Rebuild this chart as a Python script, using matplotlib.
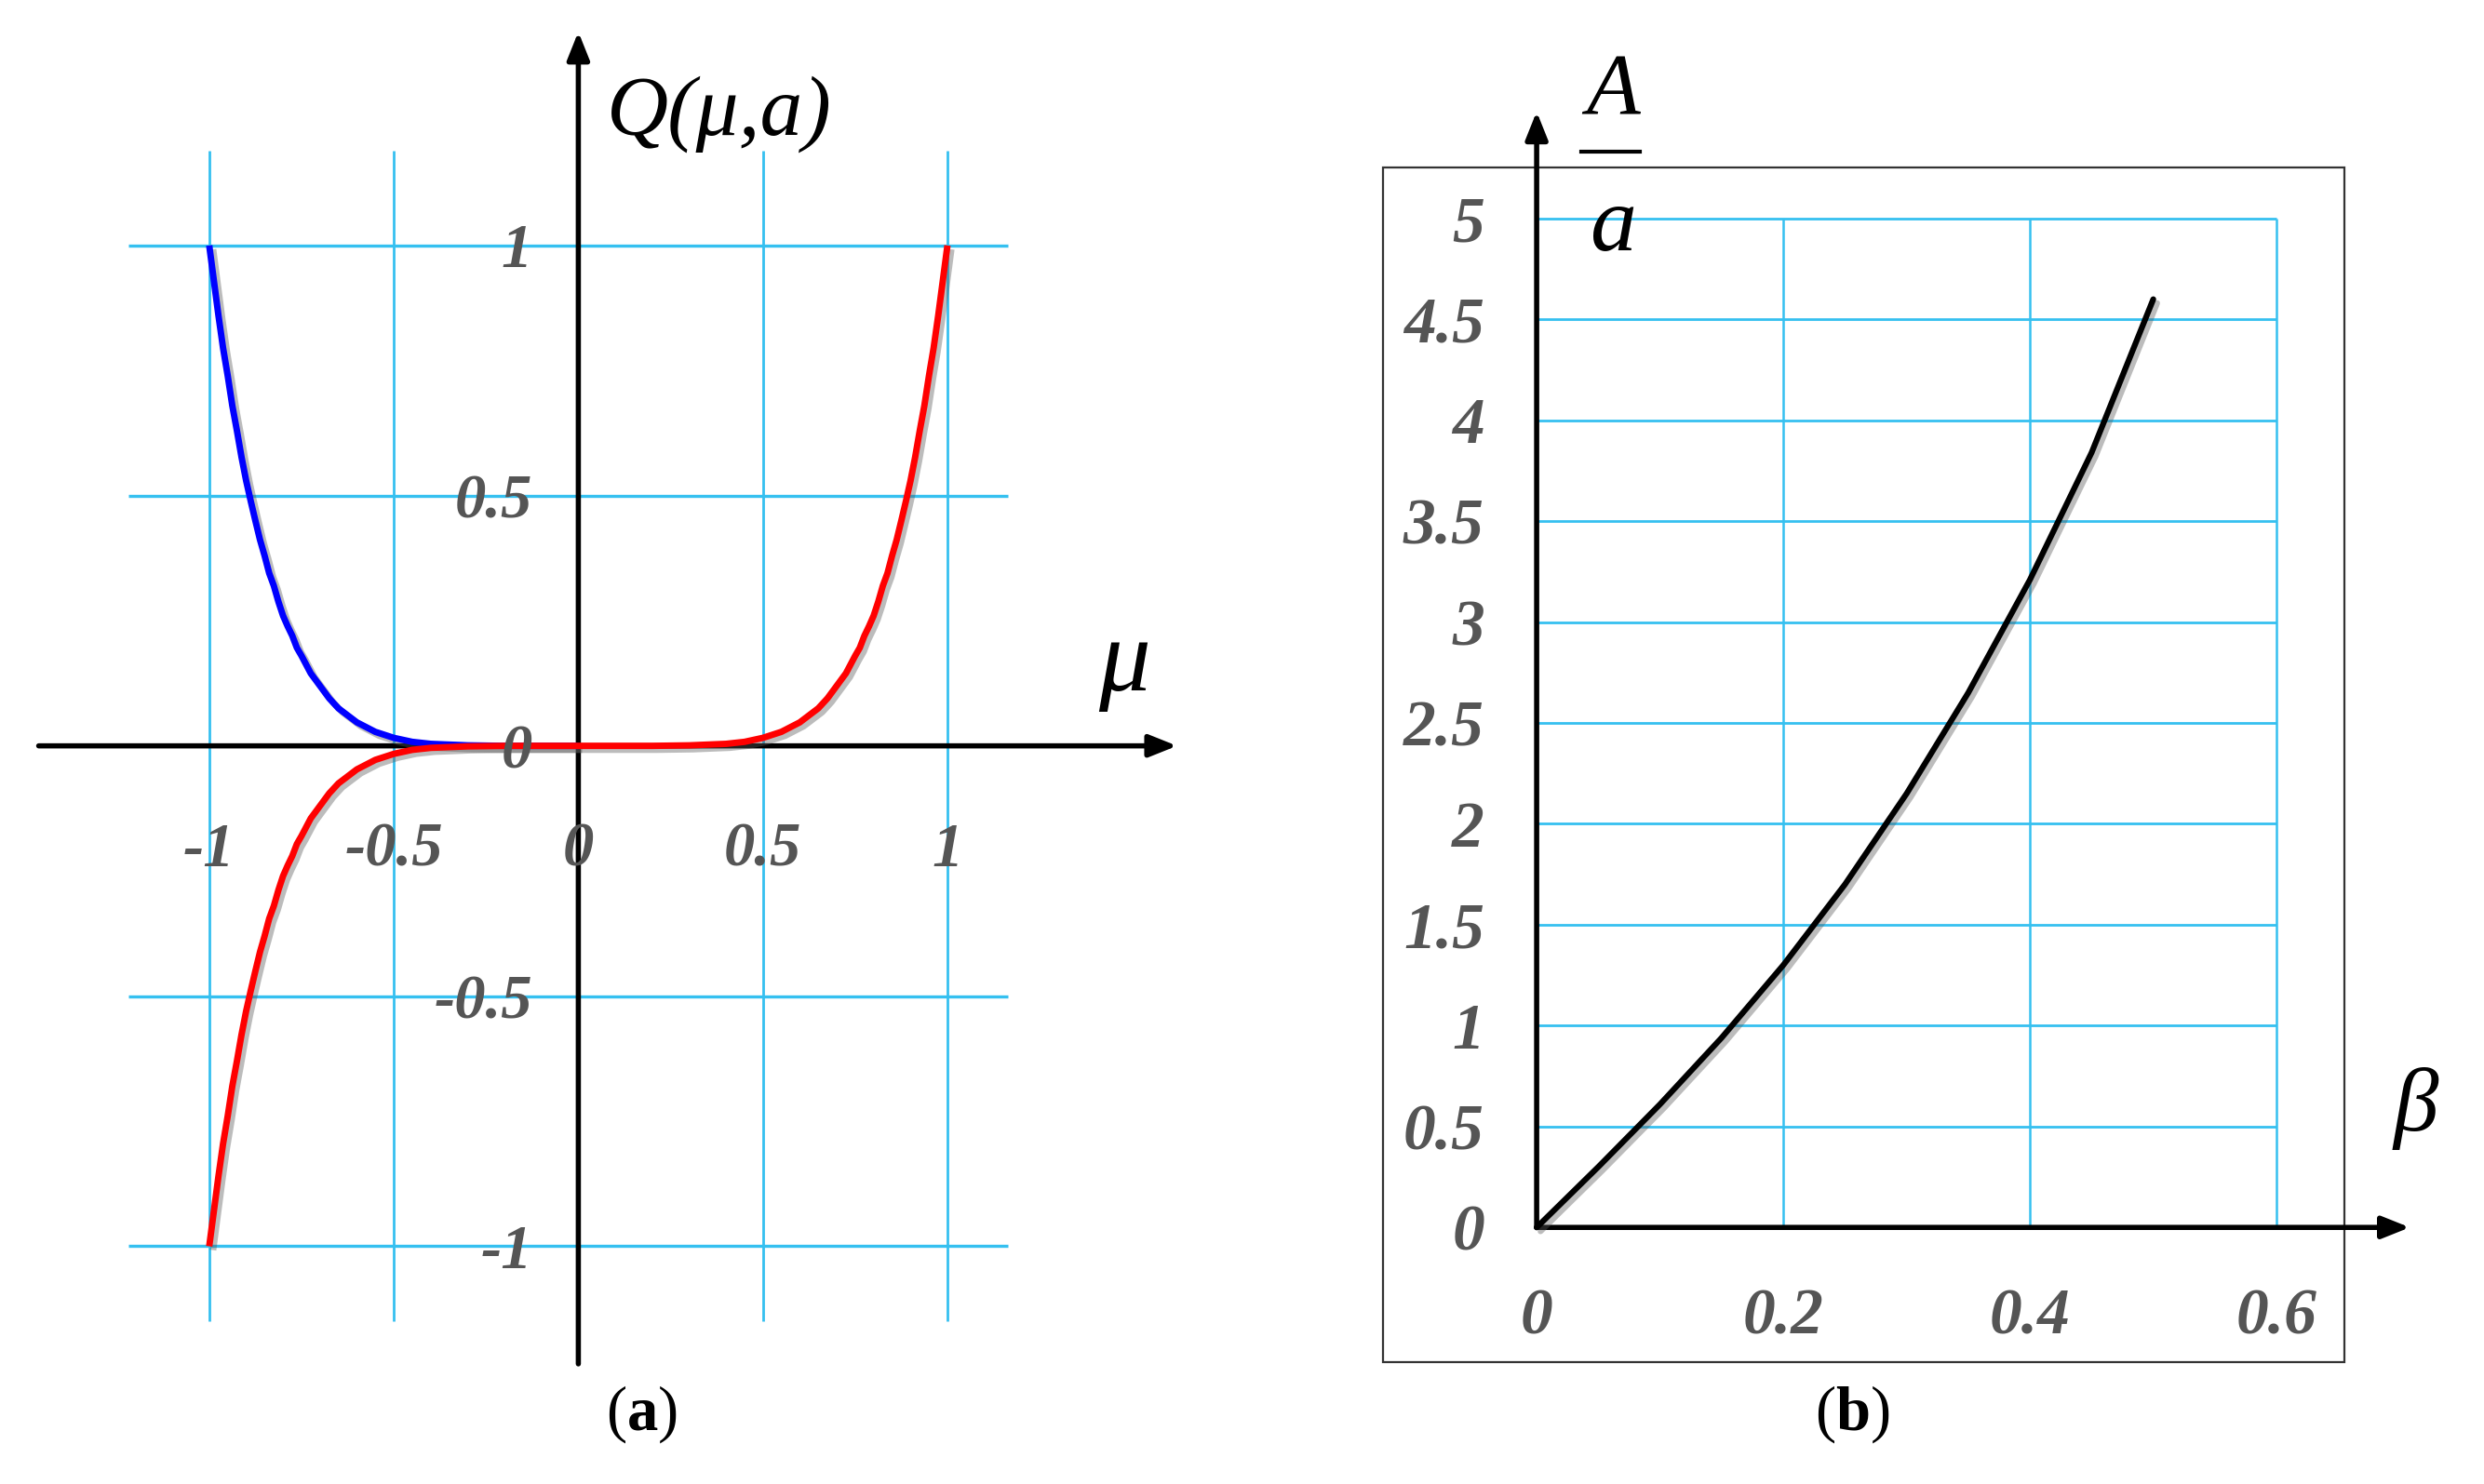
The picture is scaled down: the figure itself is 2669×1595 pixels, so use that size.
import matplotlib
matplotlib.use('Agg')
import matplotlib.pyplot as plt
import matplotlib.patheffects as pe
from matplotlib.patches import Rectangle

plt.rcParams['font.family'] = ['Liberation Serif', 'DejaVu Serif']
plt.rcParams['mathtext.fontset'] = 'custom'
plt.rcParams['mathtext.rm'] = 'Liberation Serif'
plt.rcParams['mathtext.it'] = 'Liberation Serif:italic'
plt.rcParams['mathtext.bf'] = 'Liberation Serif:bold'

# ---- panel (a): Q(mu, a) ----
mu_left = [-1.0, -0.9875, -0.975, -0.9625, -0.95, -0.9375, -0.925, -0.9125,
           -0.9, -0.8875, -0.875, -0.8625, -0.85, -0.8375, -0.825, -0.8125,
           -0.8, -0.7875, -0.775, -0.7625, -0.75, -0.725, -0.7, -0.675,
           -0.65, -0.6, -0.55, -0.5, -0.45, -0.4, -0.3, -0.2, -0.1, 0.0]
q_blue = [1.0, 0.93, 0.86, 0.795, 0.74, 0.68, 0.63, 0.577,
          0.53, 0.489, 0.45, 0.412, 0.38, 0.345, 0.32, 0.288,
          0.26, 0.239, 0.22, 0.196, 0.18, 0.145, 0.12, 0.095,
          0.075, 0.047, 0.028, 0.016, 0.008, 0.004, 0.001, 0.0, 0.0, 0.0]

mu_right = [0.1, 0.2, 0.3, 0.4, 0.45, 0.5, 0.55, 0.6, 0.65, 0.675, 0.7,
            0.725, 0.75, 0.7625, 0.775, 0.7875, 0.8, 0.8125, 0.825, 0.8375,
            0.85, 0.8625, 0.875, 0.8875, 0.9, 0.9125, 0.925, 0.9375, 0.95,
            0.9625, 0.975, 0.9875, 1.0]
q_right = [0.0, 0.0, 0.001, 0.004, 0.008, 0.016, 0.028, 0.047, 0.075, 0.095,
           0.12, 0.145, 0.18, 0.196, 0.22, 0.239, 0.26, 0.288, 0.32, 0.345,
           0.38, 0.412, 0.45, 0.489, 0.53, 0.577, 0.63, 0.68, 0.74,
           0.795, 0.86, 0.93, 1.0]

# red branch: mirror of the blue one below the axis, then the right branch
mu_red = mu_left + mu_right
q_red = [-q for q in q_blue] + q_right

a_xticks = [-1, -0.5, 0, 0.5, 1]
a_xlabels = ['-1', '-0.5', '0', '0.5', '1']
a_yticks = [1, 0.5, 0, -0.5, -1]
a_ylabels = ['1', '0.5', '0', '-0.5', '-1']

# ---- panel (b): A/a versus beta ----
beta = [0.0, 0.05, 0.1, 0.15, 0.2, 0.25, 0.3, 0.35, 0.4, 0.45, 0.5]
ratio = [0.0, 0.30, 0.61, 0.94, 1.30, 1.70, 2.15, 2.65, 3.21, 3.84, 4.60]

b_xticks = [0, 0.2, 0.4, 0.6]
b_xlabels = ['0', '0.2', '0.4', '0.6']
b_yticks = [0, 0.5, 1, 1.5, 2, 2.5, 3, 3.5, 4, 4.5, 5]
b_ylabels = ['0', '0.5', '1', '1.5', '2', '2.5', '3', '3.5', '4', '4.5', '5']

GRID = '#35c0f0'
TICK = '#555555'
shadow = [pe.SimpleLineShadow(offset=(3, -3), shadow_color='0.35', alpha=0.4),
          pe.Normal()]
tick_font = dict(style='italic', weight='bold', color=TICK)

fig = plt.figure(figsize=(26.69, 15.95), dpi=100)

# ================= (a) =================
ax = fig.add_axes([20 / 1568, 1 - 870 / 937, 740 / 1568, 855 / 937])
ax.set_xlim(-1.481, 1.695)
ax.set_ylim(-1.263, 1.443)
ax.axis('off')

ax.vlines(a_xticks, -1.15, 1.19, color=GRID, lw=2.0, zorder=1)
ax.hlines([1, 0.5, -0.5, -1], -1.22, 1.165, color=GRID, lw=2.4, zorder=1)

arrow = dict(arrowstyle='-|>,head_length=0.45,head_width=0.18', color='black',
             lw=4, shrinkA=0, shrinkB=0, mutation_scale=40)
ax.annotate('', xy=(1.622, 0), xytext=(-1.462, 0), arrowprops=arrow, zorder=3)
ax.annotate('', xy=(0, 1.427), xytext=(0, -1.235), arrowprops=arrow, zorder=3)

ax.plot(mu_left, q_blue, color='#0000ff', lw=5, solid_capstyle='butt',
        solid_joinstyle='round', path_effects=shadow, zorder=4)
ax.plot(mu_red, q_red, color='#ff0000', lw=5, solid_capstyle='butt',
        solid_joinstyle='round', path_effects=shadow, zorder=4)

for x, lab in zip(a_xticks, a_xlabels):
    ax.text(x, -0.196, lab, fontsize=48, ha='center', va='center_baseline',
            zorder=5, **tick_font)
for y, lab in zip(a_yticks, a_ylabels):
    ax.text(-0.124, y, lab, fontsize=48, ha='right', va='center_baseline',
            zorder=5, **tick_font)

ax.text(0.077, 1.222, 'Q(μ,a)', fontsize=66, style='italic', ha='left',
        va='baseline', color='black')
ax.text(1.48, 0.111, 'μ', fontsize=80, style='italic', ha='center',
        va='baseline', color='black')

# ================= (b) =================
bx = fig.add_axes([860 / 1568, 1 - 870 / 937, 700 / 1568, 850 / 937])
bx.set_xlim(-0.1413, 0.7579)
bx.set_ylim(-0.7457, 5.926)
bx.axis('off')

bx.add_patch(Rectangle((-0.1246, -0.667), 0.7796, 5.918, fill=False,
                       edgecolor='#333333', lw=1.6, zorder=1))
bx.vlines(b_xticks[1:], 0, 5, color=GRID, lw=1.8, zorder=1)
bx.hlines(b_yticks[1:], 0, 0.6, color=GRID, lw=2.0, zorder=1)

bx.annotate('', xy=(0.708, 0), xytext=(0, 0), arrowprops=arrow, zorder=3)
bx.annotate('', xy=(0, 5.53), xytext=(0, 0), arrowprops=arrow, zorder=3)

bx.plot(beta, ratio, color='black', lw=4.5, solid_capstyle='round',
        solid_joinstyle='round', path_effects=shadow, zorder=4)

for x, lab in zip(b_xticks, b_xlabels):
    bx.text(x, -0.416, lab, fontsize=50, ha='center', va='center_baseline',
            **tick_font)
for y, lab in zip(b_yticks, b_ylabels):
    bx.text(-0.0424, y, lab, fontsize=50, ha='right', va='center_baseline',
            **tick_font)

bx.text(0.0617, 5.518, 'A', fontsize=68, style='italic', ha='center',
        va='baseline', color='black')
bx.plot([0.036, 0.0835], [5.33, 5.33], color='black', lw=3)
bx.text(0.0617, 4.843, 'a', fontsize=72, style='italic', ha='center',
        va='baseline', color='black')
bx.text(0.713, 0.479, 'β', fontsize=70, style='italic', ha='center',
        va='baseline', color='black')

# panel captions
fig.text(405 / 1568, 1 - 893 / 937, r'($\mathbf{a}$)', fontsize=48,
         ha='center', va='center')
fig.text(1169 / 1568, 1 - 893 / 937, r'($\mathbf{b}$)', fontsize=48,
         ha='center', va='center')

fig.savefig('out.png', dpi=100)
